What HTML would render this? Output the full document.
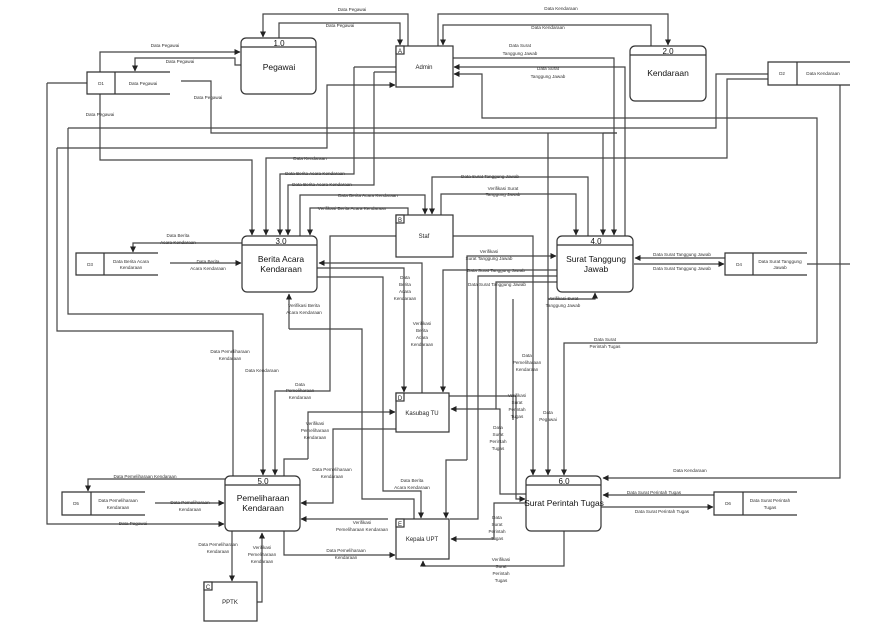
<!DOCTYPE html>
<html><head><meta charset="utf-8"><style>
html,body{margin:0;padding:0;background:#fff;}
svg{display:block;font-family:"Liberation Sans",sans-serif;}
.l{fill:none;stroke:#444;stroke-width:1.2;}
.t{font-size:4.6px;fill:#333;text-anchor:middle;}
.p{font-size:8.5px;fill:#111;text-anchor:middle;}
.n{font-size:8px;fill:#111;text-anchor:middle;}
.e{font-size:6px;fill:#222;text-anchor:middle;}
.bx{fill:#fff;stroke:#333;stroke-width:1.2;}
</style></head><body>
<svg width="885" height="634" viewBox="0 0 885 634" xmlns="http://www.w3.org/2000/svg">
<defs><marker id="a" viewBox="0 0 6 6" refX="5.5" refY="3" markerWidth="5" markerHeight="5" orient="auto"><path d="M0,0L6,3L0,6z" fill="#222"/></marker></defs>
<g class="l">
<!-- Admin <-> Pegawai -->
<polyline points="408,46 408,14 263,14 263,37" marker-end="url(#a)"/>
<polyline points="279,38 279,23 400,23 400,45" marker-end="url(#a)"/>
<!-- Admin <-> Kendaraan -->
<polyline points="438,46 438,14 668,14 668,45" marker-end="url(#a)"/>
<polyline points="651,46 651,25 443,25 443,45" marker-end="url(#a)"/>
<!-- D1 <-> Pegawai -->
<polyline points="100,72 100,52 240,52" marker-end="url(#a)"/>
<polyline points="241,65 235,65 235,58 135,58 135,71" marker-end="url(#a)"/>
<polyline points="181,81 211,81 211,133 617,133"/>
<polyline points="47,83 87,83"/>
<!-- left long lines -->
<polyline points="47,83 47,524 224,524" marker-end="url(#a)"/>
<polyline points="57,148 327,148 327,85 395,85" marker-end="url(#a)"/>
<polyline points="57,148 57,331 233,331 233,476"/>
<polyline points="68,128 716,128 716,74 768,74"/>
<polyline points="68,128 68,314 263,314 263,475" marker-end="url(#a)"/>
<polyline points="100,94 100,160 252,160 252,235" marker-end="url(#a)"/>
<polyline points="768,79 727,79 727,158 266,158 266,235" marker-end="url(#a)"/>
<polyline points="354,67 396,67"/>
<polyline points="354,67 354,174 280,174 280,235" marker-end="url(#a)"/>
<polyline points="374,72 396,72"/>
<polyline points="374,72 374,185 288,185 288,235" marker-end="url(#a)"/>
<!-- Admin <-> 4.0 -->
<polyline points="453,58 614,58 614,235" marker-end="url(#a)"/>
<polyline points="625,236 625,67 454,67" marker-end="url(#a)"/>
<polyline points="817,343 817,118 482,118 482,74 454,74" marker-end="url(#a)"/>
<polyline points="817,343 564,343 564,475" marker-end="url(#a)"/>
<polyline points="840,85 840,478 603,478" marker-end="url(#a)"/>
<polyline points="603,133 603,235" marker-end="url(#a)"/>
<polyline points="617,133 603,133"/>
<!-- Staf <-> 4.0 -->
<polyline points="588,236 588,177 432,177 432,214" marker-end="url(#a)"/>
<polyline points="441,215 441,194 576,194 576,235" marker-end="url(#a)"/>
<!-- Staf <-> 3.0 -->
<polyline points="300,236 300,195 425,195 425,214" marker-end="url(#a)"/>
<polyline points="408,215 408,208 310,208 310,235" marker-end="url(#a)"/>
<!-- staf right -->
<polyline points="453,236 533,236 533,475" marker-end="url(#a)"/>
<polyline points="548,133 548,475" marker-end="url(#a)"/>
<!-- staf left -->
<polyline points="396,236 330,236 330,391 275,391 275,475" marker-end="url(#a)"/>
<!-- 3.0 bottom -->
<polyline points="289,329 289,294" marker-end="url(#a)"/>
<polyline points="289,329 362,329 362,499 414,499 414,519"/>
<!-- 3.0 right -->
<polyline points="422,393 422,263 319,263" marker-end="url(#a)"/>
<polyline points="317,268 404,268 404,392" marker-end="url(#a)"/>
<polyline points="317,277 383,277 383,491 421,491 421,518" marker-end="url(#a)"/>
<!-- 3.0 <-> D3 -->
<polyline points="242,243 133,243 133,252" marker-end="url(#a)"/>
<polyline points="170,263 241,263" marker-end="url(#a)"/>
<!-- 4.0 left -->
<polyline points="467,460 467,256 556,256" marker-end="url(#a)"/>
<polyline points="557,270 443,270 443,392" marker-end="url(#a)"/>
<polyline points="557,276 478,276 478,519 450,519"/>
<polyline points="557,282 496,282 496,409"/>
<polyline points="467,460 446,460 446,518" marker-end="url(#a)"/>
<polyline points="548,299 595,299 595,293" marker-end="url(#a)"/>
<polyline points="513,299 513,420"/>
<!-- 4.0 <-> D4 -->
<polyline points="725,258 635,258" marker-end="url(#a)"/>
<polyline points="634,264 724,264" marker-end="url(#a)"/>
<polyline points="807,264 850,264"/>
<!-- Kasubag -->
<polyline points="308,459 308,412 395,412" marker-end="url(#a)"/>
<polyline points="308,459 284,459 284,476"/>
<polyline points="396,429 333,429 333,503 301,503" marker-end="url(#a)"/>
<polyline points="449,396 516,396 516,499 525,499" marker-end="url(#a)"/>
<polyline points="526,494 500,494 500,409 451,409" marker-end="url(#a)"/>
<!-- 5.0 -->
<polyline points="388,519 301,519" marker-end="url(#a)"/>
<polyline points="284,531 284,555 395,555" marker-end="url(#a)"/>
<polyline points="232,531 232,581" marker-end="url(#a)"/>
<polyline points="257,602 262,602 262,533" marker-end="url(#a)"/>
<polyline points="225,479 88,479 88,491" marker-end="url(#a)"/>
<polyline points="155,503 224,503" marker-end="url(#a)"/>
<!-- 6.0 -->
<polyline points="526,503 494,503 494,539 451,539" marker-end="url(#a)"/>
<polyline points="564,531 564,566 423,566 423,561" marker-end="url(#a)"/>
<polyline points="714,495 603,495" marker-end="url(#a)"/>
<polyline points="601,507 713,507" marker-end="url(#a)"/>
</g>
<!-- Processes -->
<g class="bx">
<rect x="241" y="38" width="75" height="56" rx="5"/>
<rect x="630" y="46" width="76" height="55" rx="5"/>
<rect x="242" y="236" width="75" height="56" rx="5"/>
<rect x="557" y="236" width="76" height="56" rx="5"/>
<rect x="225" y="476" width="75" height="55" rx="5"/>
<rect x="526" y="476" width="75" height="55" rx="5"/>
</g>
<g stroke="#333" stroke-width="1.2">
<line x1="241" y1="47" x2="316" y2="47"/><line x1="630" y1="55" x2="706" y2="55"/>
<line x1="242" y1="245" x2="317" y2="245"/><line x1="557" y1="245" x2="633" y2="245"/>
<line x1="225" y1="485" x2="300" y2="485"/><line x1="526" y1="485" x2="601" y2="485"/>
</g>
<text class="n" x="279" y="46">1.0</text><text class="p" x="279" y="70">Pegawai</text>
<text class="n" x="668" y="54">2.0</text><text class="p" x="668" y="76">Kendaraan</text>
<text class="n" x="281" y="244">3.0</text><text class="p" x="281" y="262">Berita Acara</text><text class="p" x="281" y="272">Kendaraan</text>
<text class="n" x="596" y="244">4.0</text><text class="p" x="596" y="262">Surat Tanggung</text><text class="p" x="596" y="272">Jawab</text>
<text class="n" x="263" y="484">5.0</text><text class="p" x="263" y="501">Pemeliharaan</text><text class="p" x="263" y="511">Kendaraan</text>
<text class="n" x="564" y="484">6.0</text><text class="p" x="564" y="506">Surat Perintah Tugas</text>
<!-- Entities -->
<g class="bx">
<rect x="396" y="46" width="57" height="41"/><rect x="396" y="215" width="57" height="42"/>
<rect x="396" y="393" width="53" height="39"/><rect x="396" y="519" width="53" height="40"/>
<rect x="204" y="582" width="53" height="39"/>
<rect x="396" y="46" width="8" height="8"/><rect x="396" y="215" width="8" height="8"/>
<rect x="396" y="393" width="8" height="8"/><rect x="396" y="519" width="8" height="8"/>
<rect x="204" y="582" width="8" height="8"/>
</g>
<text class="e" x="400" y="53" font-size="5">A</text><text class="e" x="400" y="222" font-size="5">B</text>
<text class="e" x="400" y="400" font-size="5">D</text><text class="e" x="400" y="526" font-size="5">E</text>
<text class="e" x="208" y="589" font-size="5">C</text>
<text class="e" x="424" y="69">Admin</text><text class="e" x="424" y="238">Staf</text>
<text class="e" x="422" y="415">Kasubag TU</text><text class="e" x="422" y="541">Kepala UPT</text>
<text class="e" x="230" y="604">PPTK</text>
<!-- Data stores -->
<g stroke="#333" stroke-width="1.2" fill="none">
<path d="M170,72H87V94H170M115,72V94"/>
<path d="M850,62H768V85H850M797,62V85"/>
<path d="M158,253H76V275H158M104,253V275"/>
<path d="M807,253H725V275H807M753,253V275"/>
<path d="M145,492H62V515H145M91,492V515"/>
<path d="M797,492H714V515H797M743,492V515"/>
</g>
<g class="t">
<text x="101" y="85">D1</text><text x="143" y="85">Data Pegawai</text>
<text x="782" y="75">D2</text><text x="823" y="75">Data Kendaraan</text>
<text x="90" y="266">D3</text><text x="131" y="263">Data Berita Acara</text><text x="131" y="269">Kendaraan</text>
<text x="739" y="266">D4</text><text x="780" y="263">Data Surat Tanggung</text><text x="780" y="269">Jawab</text>
<text x="76" y="505">D5</text><text x="118" y="502">Data Pemeliharaan</text><text x="118" y="509">Kendaraan</text>
<text x="728" y="505">D6</text><text x="770" y="502">Data Surat Perintah</text><text x="770" y="509">Tugas</text>
<!-- labels -->
<text x="352" y="11">Data Pegawai</text><text x="340" y="27">Data Pegawai</text>
<text x="561" y="10">Data Kendaraan</text><text x="548" y="29">Data Kendaraan</text>
<text x="165" y="47">Data Pegawai</text><text x="180" y="63">Data Pegawai</text>
<text x="208" y="99">Data Pegawai</text><text x="100" y="116">Data Pegawai</text>
<text x="520" y="47">Data Surat</text><text x="520" y="55">Tanggung Jawab</text>
<text x="548" y="70">Data Surat</text><text x="548" y="78">Tanggung Jawab</text>
<text x="310" y="160">Data Kendaraan</text>
<text x="315" y="175">Data Berita Acara Kendaraan</text>
<text x="322" y="186">Data Berita Acara Kendaraan</text>
<text x="368" y="197">Data Berita Acara Kendaraan</text>
<text x="352" y="210">Verifikasi Berita Acara Kendaraan</text>
<text x="490" y="178">Data Surat Tanggung Jawab</text>
<text x="503" y="190">Verifikasi Surat</text><text x="503" y="196">Tanggung Jawab</text>
<text x="178" y="237">Data Berita</text><text x="178" y="244">Acara Kendaraan</text>
<text x="208" y="263">Data Berita</text><text x="208" y="270">Acara Kendaraan</text>
<text x="489" y="253">Verifikasi</text><text x="489" y="260">Surat Tanggung Jawab</text>
<text x="496" y="272">Data Surat Tanggung Jawab</text>
<text x="497" y="286">Data Surat Tanggung Jawab</text>
<text x="682" y="256">Data Surat Tanggung Jawab</text>
<text x="682" y="270">Data Surat Tanggung Jawab</text>
<text x="405" y="279">Data</text><text x="405" y="286">Berita</text><text x="405" y="293">Acara</text><text x="405" y="300">Kendaraan</text>
<text x="422" y="325">Verifikasi</text><text x="422" y="332">Berita</text><text x="422" y="339">Acara</text><text x="422" y="346">Kendaraan</text>
<text x="304" y="307">Verifikasi Berita</text><text x="304" y="314">Acara Kendaraan</text>
<text x="563" y="300">Verifikasi Surat</text><text x="563" y="307">Tanggung Jawab</text>
<text x="605" y="341">Data Surat</text><text x="605" y="348">Perintah Tugas</text>
<text x="230" y="353">Data Pemeliharaan</text><text x="230" y="360">Kendaraan</text>
<text x="262" y="372">Data Kendaraan</text>
<text x="300" y="386">Data</text><text x="300" y="392">Pemeliharaan</text><text x="300" y="399">Kendaraan</text>
<text x="527" y="357">Data</text><text x="527" y="364">Pemeliharaan</text><text x="527" y="371">Kendaraan</text>
<text x="517" y="397">Verifikasi</text><text x="517" y="404">Surat</text><text x="517" y="411">Perintah</text><text x="517" y="418">Tugas</text>
<text x="498" y="429">Data</text><text x="498" y="436">Surat</text><text x="498" y="443">Perintah</text><text x="498" y="450">Tugas</text>
<text x="548" y="414">Data</text><text x="548" y="421">Pegawai</text>
<text x="315" y="425">Verifikasi</text><text x="315" y="432">Pemeliharaan</text><text x="315" y="439">Kendaraan</text>
<text x="332" y="471">Data Pemeliharaan</text><text x="332" y="478">Kendaraan</text>
<text x="412" y="482">Data Berita</text><text x="412" y="489">Acara Kendaraan</text>
<text x="690" y="472">Data Kendaraan</text>
<text x="145" y="478">Data Pemeliharaan Kendaraan</text>
<text x="190" y="504">Data Pemeliharaan</text><text x="190" y="511">Kendaraan</text>
<text x="133" y="525">Data Pegawai</text>
<text x="654" y="494">Data Surat Perintah Tugas</text>
<text x="662" y="513">Data Surat Perintah Tugas</text>
<text x="497" y="519">Data</text><text x="497" y="526">Surat</text><text x="497" y="533">Perintah</text><text x="497" y="540">Tugas</text>
<text x="362" y="524">Verifikasi</text><text x="362" y="531">Pemeliharaan Kendaraan</text>
<text x="346" y="552">Data Pemeliharaan</text><text x="346" y="559">Kendaraan</text>
<text x="218" y="546">Data Pemeliharaan</text><text x="218" y="553">Kendaraan</text>
<text x="262" y="549">Verifikasi</text><text x="262" y="556">Pemeliharaan</text><text x="262" y="563">Kendaraan</text>
<text x="501" y="561">Verifikasi</text><text x="501" y="568">Surat</text><text x="501" y="575">Perintah</text><text x="501" y="582">Tugas</text>
</g>
</svg>
</body></html>
